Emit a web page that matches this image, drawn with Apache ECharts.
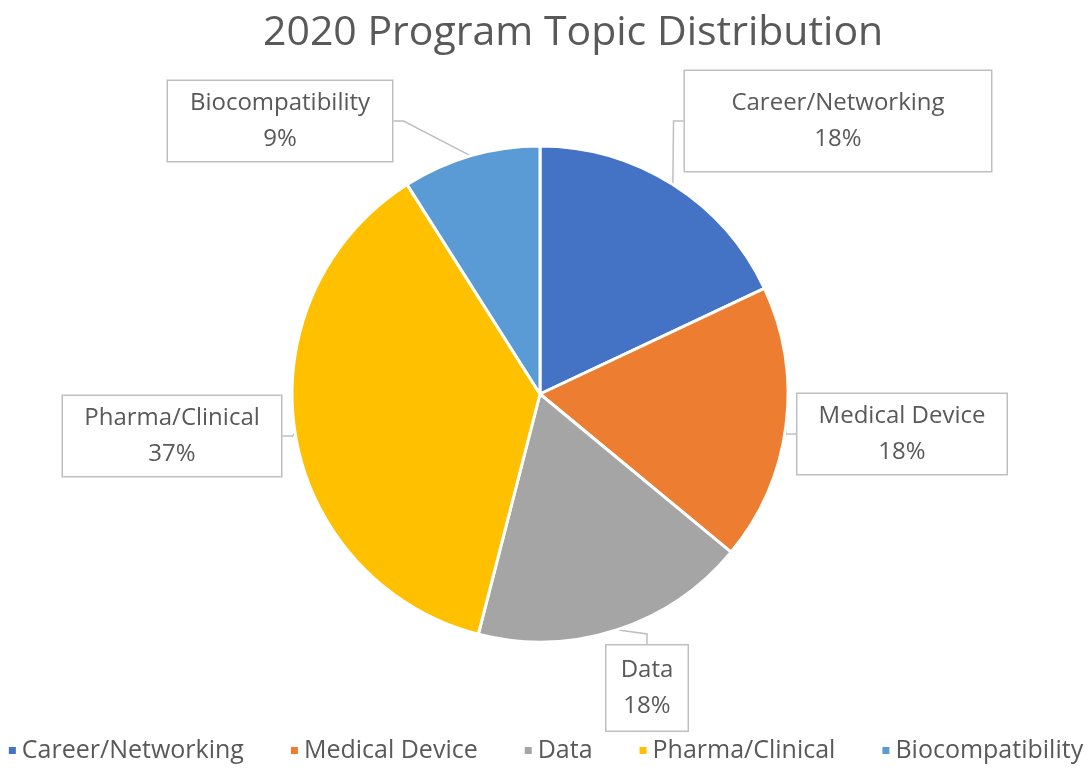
<!DOCTYPE html>
<html>
<head>
<meta charset="utf-8">
<script src="https://cdn.jsdelivr.net/npm/echarts@6/dist/echarts.min.js"></script>
<style>
  html, body { margin: 0; padding: 0; background: #fff; }
  #chart { width: 1090px; height: 768px; }
</style>
</head>
<body>
<div id="chart"></div>
<script>
let topics = ['Career/Networking', 'Medical Device', 'Data', 'Pharma/Clinical', 'Biocompatibility'];
let shares = [18, 18, 18, 37, 9];
let colors = ['#4472C4', '#ED7D31', '#A5A5A5', '#FFC000', '#5B9BD5'];

// callout boxes: center, width, height
let labelSpots = [[838, 121], [902, 434], [647, 688], [172, 436], [280, 121]];
let boxWidths = [306, 209, 81, 218, 224];
let boxHeights = [100, 80, 85, 80, 80];

let fontName = '"Open Sans", "Liberation Sans", sans-serif';
let textGrey = '#595959';
let lineH = 36;

let pieData = [];
for (let i = 0; i < topics.length; i++) {
    let padV = (boxHeights[i] - 2 * lineH) / 2;
    pieData.push({
        name: topics[i],
        value: shares[i],
        itemStyle: { color: colors[i] },
        label: {
            width: boxWidths[i],
            padding: [padV, 0, padV, 0]
        }
    });
}

let option = {
    animation: false,
    title: {
        text: '2020 Program Topic Distribution',
        left: 258,
        top: 8,
        textStyle: {
            fontFamily: fontName,
            fontWeight: 'normal',
            fontSize: 41,
            color: textGrey
        }
    },
    legend: {
        data: topics,
        bottom: 0,
        left: 'center',
        icon: 'rect',
        itemWidth: 9,
        itemHeight: 9,
        itemGap: 45,
        textStyle: {
            fontFamily: fontName,
            fontSize: 25,
            color: textGrey
        }
    },
    series: [
        {
            type: 'pie',
            center: [540, 394],
            radius: 248,
            startAngle: 90,
            clockwise: true,
            data: pieData,
            itemStyle: {
                borderColor: '#fff',
                borderWidth: 3
            },
            label: {
                show: true,
                position: 'outside',
                formatter: '{b}\n{d}%',
                fontFamily: fontName,
                fontSize: 24,
                lineHeight: lineH,
                color: textGrey,
                align: 'center',
                backgroundColor: '#fff',
                borderColor: '#bfbfbf',
                borderWidth: 1.5
            },
            labelLine: {
                show: true,
                length: 10,
                length2: 10,
                lineStyle: { color: '#bfbfbf', width: 1.5 }
            },
            labelLayout: function (params) {
                let p = labelSpots[params.dataIndex];
                return {
                    x: p[0],
                    y: p[1],
                    align: 'center',
                    verticalAlign: 'middle'
                };
            }
        }
    ]
};

let chart = echarts.init(document.getElementById('chart'));
chart.setOption(option);
</script>
</body>
</html>
